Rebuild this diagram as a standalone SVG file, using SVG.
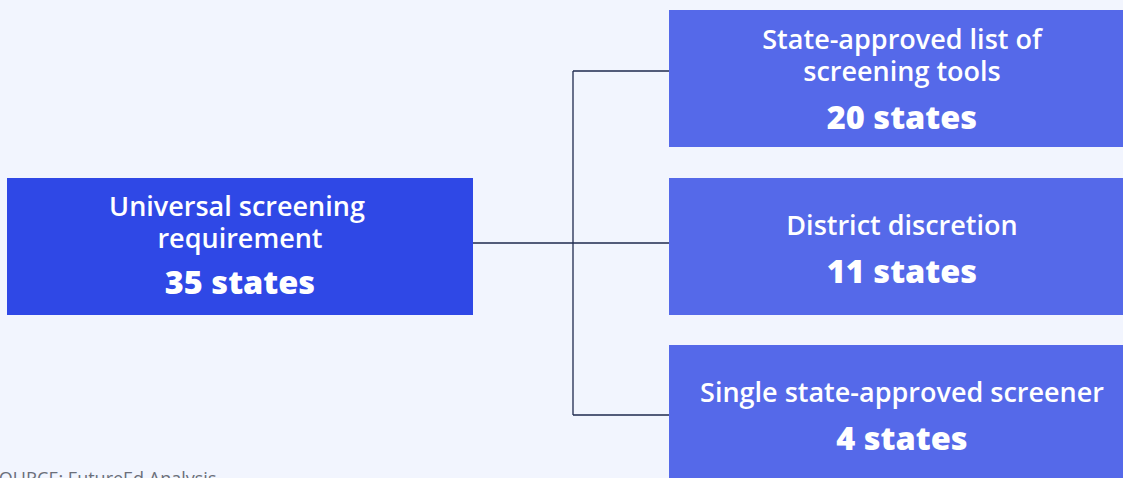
<svg xmlns="http://www.w3.org/2000/svg" width="1123" height="478" viewBox="0 0 1123 478">
<style>
.t{font-family:"Open Sans","Noto Sans",sans-serif;fill:#ffffff;text-anchor:middle;font-size:27px;font-weight:560}
.b{font-family:"Open Sans","Noto Sans",sans-serif;fill:#ffffff;text-anchor:middle;font-size:32.5px;font-weight:800}
.c{fill:none;stroke:#1f2a4f;stroke-width:1.3}
</style>
<rect x="0" y="0" width="1123" height="478" fill="#f2f5fe"/>
<g id="connectors">
<path class="c" d="M473 243H573M573 71V415M573 71H669M573 243H669M573 415H669"/>
</g>
<g id="root">
<rect x="7" y="178" width="466" height="137" fill="#2f48e6"/>
<text class="t" x="237" y="216">Universal screening</text>
<text class="t" x="240" y="248">requirement</text>
<text class="b" x="240" y="294">35 states</text>
</g>
<g id="list">
<rect x="669" y="10" width="454" height="137" fill="#5569e9"/>
<text class="t" x="902" y="49">State-approved list of</text>
<text class="t" x="902" y="81">screening tools</text>
<text class="b" x="902" y="129">20 states</text>
</g>
<g id="district">
<rect x="669" y="178" width="454" height="137" fill="#5569e9"/>
<text class="t" x="902" y="235">District discretion</text>
<text class="b" x="902" y="283">11 states</text>
</g>
<g id="single">
<rect x="669" y="345" width="454" height="133" fill="#5569e9"/>
<text class="t" x="902" y="402">Single state-approved screener</text>
<text class="b" x="902" y="450">4 states</text>
</g>
<text x="-11" y="485" font-family="Open Sans, sans-serif" font-size="18" fill="#6b6f7a">SOURCE: FutureEd Analysis</text>
</svg>
